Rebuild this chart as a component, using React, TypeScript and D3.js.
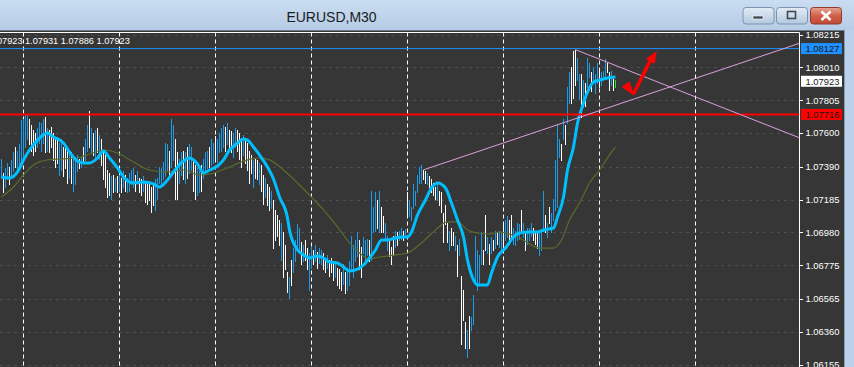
import React, { useEffect } from 'react';
import * as d3 from 'd3';

const W = 854;
const H = 367;

const chartTitle = 'EURUSD,M30';
const infoValues = ['1.07923', '1.07931', '1.07886', '1.07923'];

const priceTicks = [1.08215, 1.0801, 1.07805, 1.076, 1.0739, 1.07185, 1.0698, 1.06775, 1.06565, 1.0636, 1.06155];

const highs = [
  1.0744, 1.0735, 1.0738, 1.0741, 1.0739, 1.0743, 1.0748, 1.0751, 1.0749, 1.0753,
  1.0768, 1.0769, 1.0771, 1.0772, 1.0769, 1.0765, 1.0762, 1.076, 1.0763, 1.0767,
  1.0766, 1.0769, 1.077, 1.0763, 1.0762, 1.0764, 1.076, 1.0757, 1.0756, 1.0754,
  1.0756, 1.0751, 1.0753, 1.0749, 1.0748, 1.0748, 1.0745, 1.0743, 1.0746, 1.0744,
  1.0745, 1.0751, 1.0756, 1.0765, 1.0774, 1.0763, 1.076, 1.0762, 1.0763, 1.0759,
  1.0756, 1.0749, 1.0746, 1.0737, 1.0735, 1.0733, 1.0734, 1.0732, 1.0733, 1.0734,
  1.0732, 1.0736, 1.0734, 1.0732, 1.0735, 1.0737, 1.0738, 1.0734, 1.0736, 1.0732,
  1.0731, 1.0733, 1.0729, 1.0728, 1.0729, 1.0726, 1.0728, 1.0731, 1.0732, 1.0739,
  1.0738, 1.0742, 1.0754, 1.0753, 1.0749, 1.0769, 1.0765, 1.0756, 1.0748, 1.0744,
  1.0748, 1.0749, 1.0748, 1.0751, 1.0753, 1.0751, 1.0743, 1.074, 1.0738, 1.0736,
  1.074, 1.0744, 1.0748, 1.0749, 1.0751, 1.0756, 1.0754, 1.0758, 1.0756, 1.076,
  1.0763, 1.0765, 1.0764, 1.0766, 1.0762, 1.0761, 1.076, 1.0763, 1.0762, 1.076,
  1.0757, 1.0759, 1.0756, 1.0754, 1.0749, 1.0746, 1.0743, 1.0744, 1.0743, 1.0741,
  1.074, 1.0734, 1.0732, 1.0728, 1.0726, 1.0724, 1.0718, 1.0712, 1.0709, 1.0706,
  1.0704, 1.0698, 1.069, 1.0673, 1.067, 1.0681, 1.0688, 1.0693, 1.0703, 1.0701,
  1.0692, 1.069, 1.0693, 1.0688, 1.0685, 1.0689, 1.0687, 1.069, 1.0686, 1.0688,
  1.0687, 1.0685, 1.0682, 1.0684, 1.0681, 1.0682, 1.0678, 1.068, 1.0676, 1.0675,
  1.0673, 1.0678, 1.0673, 1.0676, 1.068, 1.0696, 1.069, 1.0693, 1.0698, 1.0693,
  1.0689, 1.0695, 1.0693, 1.0694, 1.0693, 1.0724, 1.0714, 1.0723, 1.0718, 1.0724,
  1.0714, 1.0708, 1.0704, 1.0696, 1.0693, 1.0689, 1.0696, 1.0699, 1.0698, 1.0699,
  1.0701, 1.0699, 1.07, 1.0723, 1.0718, 1.0714, 1.0728, 1.0724, 1.0734, 1.0739,
  1.074, 1.0737, 1.0736, 1.0735, 1.0733, 1.0731, 1.0729, 1.0726, 1.0728, 1.0724,
  1.0723, 1.071, 1.0715, 1.0704, 1.0699, 1.0701, 1.0698, 1.0696, 1.069, 1.0694,
  1.0671, 1.0662, 1.0642, 1.0637, 1.0646, 1.0645, 1.0659, 1.0696, 1.0687, 1.0684,
  1.0698, 1.0687, 1.0709, 1.0695, 1.0691, 1.0695, 1.0693, 1.0699, 1.0698, 1.0699,
  1.0698, 1.0703, 1.0706, 1.0708, 1.0706, 1.0709, 1.0701, 1.0699, 1.0704, 1.0703,
  1.0712, 1.0704, 1.0699, 1.0701, 1.0701, 1.0704, 1.0701, 1.0699, 1.0698, 1.0698,
  1.0699, 1.0724, 1.0709, 1.0704, 1.0714, 1.071, 1.0719, 1.0743, 1.0765, 1.0756,
  1.0753, 1.0769, 1.0765, 1.0789, 1.0798, 1.0801, 1.0811, 1.0812, 1.0807, 1.0797,
  1.0797, 1.0793, 1.0791, 1.0807, 1.0804, 1.0798, 1.0801, 1.0797, 1.0804, 1.0799,
  1.0798, 1.0799, 1.0806, 1.0804, 1.0798, 1.0799, 1.0794, 1.07931,
];

const lows = [
  1.0732, 1.0723, 1.0726, 1.0731, 1.0728, 1.0733, 1.0736, 1.0739, 1.0737, 1.074,
  1.0743, 1.0744, 1.0751, 1.0756, 1.0753, 1.0749, 1.0746, 1.0749, 1.0751, 1.0754,
  1.0749, 1.0754, 1.0748, 1.0749, 1.0748, 1.0751, 1.0743, 1.0739, 1.0741, 1.0734,
  1.0737, 1.0733, 1.0738, 1.0729, 1.0732, 1.0729, 1.0724, 1.0728, 1.0736, 1.0738,
  1.0739, 1.0741, 1.0743, 1.0749, 1.0751, 1.0748, 1.0746, 1.0743, 1.0748, 1.0744,
  1.074, 1.0731, 1.0726, 1.072, 1.0721, 1.0719, 1.0723, 1.0724, 1.0723, 1.0724,
  1.0723, 1.0726, 1.0724, 1.0723, 1.0724, 1.0728, 1.0726, 1.0724, 1.0728, 1.0723,
  1.0721, 1.0724, 1.0717, 1.0716, 1.0718, 1.0711, 1.0715, 1.0712, 1.0719, 1.0729,
  1.0728, 1.0731, 1.0733, 1.0737, 1.0734, 1.0739, 1.0743, 1.0719, 1.0719, 1.0729,
  1.0734, 1.0731, 1.0729, 1.0732, 1.0735, 1.0737, 1.0724, 1.0719, 1.0721, 1.0723,
  1.0724, 1.0732, 1.0737, 1.0738, 1.0739, 1.074, 1.0741, 1.0743, 1.0742, 1.0748,
  1.0749, 1.0751, 1.0749, 1.0753, 1.0751, 1.0748, 1.0745, 1.0751, 1.0749, 1.0744,
  1.0739, 1.0746, 1.0741, 1.0737, 1.0729, 1.0735, 1.0726, 1.0732, 1.0731, 1.0728,
  1.0724, 1.0716, 1.072, 1.0715, 1.0712, 1.0713, 1.0688, 1.0693, 1.0696, 1.069,
  1.0681, 1.067, 1.0675, 1.0661, 1.0657, 1.0665, 1.0673, 1.068, 1.0687, 1.0686,
  1.0678, 1.068, 1.0681, 1.0675, 1.0662, 1.0676, 1.0678, 1.068, 1.0676, 1.0679,
  1.0678, 1.0675, 1.0673, 1.0676, 1.0671, 1.0673, 1.0668, 1.067, 1.0665, 1.0663,
  1.0662, 1.0666, 1.066, 1.0662, 1.0665, 1.0676, 1.067, 1.068, 1.0683, 1.0675,
  1.067, 1.0685, 1.0681, 1.0684, 1.068, 1.0681, 1.0698, 1.0699, 1.0701, 1.0698,
  1.0698, 1.0698, 1.0693, 1.0687, 1.0683, 1.0678, 1.0684, 1.0689, 1.069, 1.0693,
  1.0694, 1.0693, 1.0695, 1.0708, 1.0708, 1.0706, 1.0713, 1.0715, 1.0723, 1.0729,
  1.0729, 1.0731, 1.0729, 1.0728, 1.0726, 1.0723, 1.0721, 1.0719, 1.0718, 1.0715,
  1.0711, 1.0692, 1.0703, 1.0692, 1.0687, 1.069, 1.069, 1.0687, 1.0671, 1.0684,
  1.0628, 1.0643, 1.0626, 1.062, 1.0626, 1.0637, 1.0641, 1.0666, 1.0662, 1.0665,
  1.0678, 1.0678, 1.0687, 1.0685, 1.0678, 1.0685, 1.0687, 1.0688, 1.0691, 1.0689,
  1.0686, 1.0688, 1.0693, 1.0695, 1.0691, 1.0694, 1.0691, 1.069, 1.0693, 1.0694,
  1.0698, 1.0695, 1.0687, 1.0691, 1.0693, 1.0696, 1.0693, 1.0691, 1.0688, 1.0684,
  1.0687, 1.0699, 1.0698, 1.0695, 1.0704, 1.0698, 1.0706, 1.0712, 1.0714, 1.0745,
  1.0743, 1.0756, 1.0753, 1.0766, 1.0779, 1.0779, 1.0782, 1.079, 1.0793, 1.0781,
  1.077, 1.0776, 1.0777, 1.0789, 1.0795, 1.0786, 1.0792, 1.0785, 1.0791, 1.0789,
  1.079, 1.0793, 1.0795, 1.0798, 1.0787, 1.079, 1.0787, 1.07886,
];

// u = bullish bar, d = bearish bar, g = current (unchanged) bar
const barDirections = (
  'uduuduuduu' + 'uuuudddduu' + 'uududddddu' + 'uddduduuud' + 'uduudududu' +
  'dddddududu' + 'duduuuudud' + 'duddddduuu' + 'uuuuduuddu' + 'ududuudduu' +
  'duuuduuduu' + 'uududduudd' + 'dudddduddu' + 'dduddudddd' + 'uddduduuuu' +
  'dudduududu' + 'uddudddudd' + 'duduuuuuud' + 'duuuduuudu' + 'dduudddudu' +
  'ududuuuuuu' + 'udduddddud' + 'dddduddudu' + 'ddduduuuuu' + 'uddudududu' +
  'uduudduuuu' + 'duduuudddu' + 'uududuuuuu' + 'duduuddduu' + 'duduuduuud' +
  'uuuddudg'
).split('');

// Fast moving average (read at bar indices)
const fastMaBars = [0, 4, 8, 11, 14, 18, 23, 26, 31, 34, 38, 41, 44, 48, 51, 54, 58, 61, 66, 71, 76, 79, 83, 86, 91, 94, 98, 101, 104, 108, 111, 114, 118, 121, 123, 126, 129, 133, 136, 139, 143, 144, 148, 151, 154, 158, 161, 164, 168, 171, 174, 178, 181, 184, 187, 190, 193, 197, 200, 203, 205, 208, 212, 215, 218, 222, 225, 228, 231, 233, 236, 238, 243, 245, 248, 252, 256, 259, 264, 268, 271, 276, 278, 281, 283, 286, 288, 291, 293, 296, 299, 303, 307];
const fastMaValues = [1.07326, 1.07319, 1.07357, 1.07432, 1.07494, 1.07556, 1.076, 1.07575, 1.07538, 1.07482, 1.07425, 1.07413, 1.07413, 1.07444, 1.07488, 1.07444, 1.07382, 1.07326, 1.07288, 1.07294, 1.07282, 1.07263, 1.07307, 1.07357, 1.07425, 1.07444, 1.07407, 1.0735, 1.07369, 1.07394, 1.07432, 1.07494, 1.07538, 1.07563, 1.07556, 1.07513, 1.07463, 1.07388, 1.07313, 1.07201, 1.0707, 1.06995, 1.0687, 1.06839, 1.0682, 1.06833, 1.0682, 1.06795, 1.06789, 1.06764, 1.06739, 1.06751, 1.06776, 1.0682, 1.0687, 1.06932, 1.06932, 1.06945, 1.06951, 1.06951, 1.06982, 1.07088, 1.07182, 1.07257, 1.07288, 1.07257, 1.07163, 1.07057, 1.06951, 1.06808, 1.06683, 1.06652, 1.06652, 1.06726, 1.06826, 1.06882, 1.06951, 1.06976, 1.06982, 1.06982, 1.06995, 1.07007, 1.07076, 1.07201, 1.07369, 1.07513, 1.07662, 1.07787, 1.07856, 1.07918, 1.07931, 1.07943, 1.0795];

// Slow moving average
const slowMaBars = [0, 6, 11, 16, 23, 29, 38, 44, 51, 58, 66, 74, 83, 91, 99, 104, 113, 121, 129, 134, 141, 148, 154, 161, 168, 174, 179, 184, 189, 197, 203, 210, 217, 223, 228, 233, 238, 245, 249, 259, 269, 276, 280, 284, 289, 294, 299, 304, 307];
const slowMaValues = [1.07201, 1.07263, 1.07338, 1.074, 1.07432, 1.07438, 1.07444, 1.07469, 1.07494, 1.07475, 1.07419, 1.07369, 1.07357, 1.07369, 1.07338, 1.07344, 1.07382, 1.07425, 1.07444, 1.07432, 1.07369, 1.07288, 1.07213, 1.0712, 1.07014, 1.06914, 1.06851, 1.06814, 1.06826, 1.06839, 1.06851, 1.06914, 1.06995, 1.07045, 1.07045, 1.06995, 1.06976, 1.0697, 1.06982, 1.06945, 1.06882, 1.06882, 1.06932, 1.07057, 1.07163, 1.07288, 1.07369, 1.07463, 1.07513];

const separatorBars = [11, 59, 107, 155, 203, 251, 299, 347];

const levelPrices = [1.08127, 1.07716];
const levelColors = ['#1E90FF', '#FF0000'];
const levelWidths = [1, 2];

const axisMarkPrices = [1.08127, 1.07923, 1.07716];
const axisMarkColors = ['#1E90FF', '#FFFFFF', '#FF0000'];

// trend lines: [barIndex, price] anchors, drawn as rays to the right
const trendUpAnchors: [number, number][] = [[211, 1.0737], [399, 1.0816]];
const trendDownAnchors: [number, number][] = [[287, 1.0812], [399, 1.0757]];

// red check-mark arrow, anchored in bar/price space
const arrowWedge: [number, number][] = [[310.1, 1.07889], [314, 1.07921], [316.5, 1.07831]];
const arrowShaft: [number, number][] = [[316, 1.07843], [324.5, 1.08056]];
const arrowHead: [number, number][] = [[327.6, 1.08112], [322.2, 1.08062], [326.6, 1.08032]];

const FONT = '"Liberation Sans", Arial, sans-serif';

export default function App() {
  useEffect(() => {
    document.body.style.margin = '0';
  }, []);

  const plotRight = 799.5;
  const plotTop = 32.5;

  const x = d3.scaleLinear().domain([0, 307]).range([1.5, 615.5]);
  const y = d3.scaleLinear().domain([1.06155, 1.08215]).range([364.5, 34.5]);

  const line = d3
    .line<[number, number]>()
    .x((d) => x(d[0]))
    .y((d) => y(d[1]))
    .curve(d3.curveMonotoneX);

  const fastMa = line(fastMaBars.map((b, i) => [b, fastMaValues[i]] as [number, number]));
  const slowMa = line(slowMaBars.map((b, i) => [b, slowMaValues[i]] as [number, number]));

  const ray = (a: [number, number][]) => {
    const [p0, p1] = a;
    const x0 = x(p0[0]);
    const y0 = y(p0[1]);
    const x1 = x(p1[0]);
    const y1 = y(p1[1]);
    const slope = (y1 - y0) / (x1 - x0);
    const xe = plotRight + 20;
    return { x0, y0, x1: xe, y1: y0 + slope * (xe - x0) };
  };
  const tUp = ray(trendUpAnchors);
  const tDown = ray(trendDownAnchors);

  const pts = (a: [number, number][]) => a.map((p) => `${x(p[0])},${y(p[1])}`).join(' ');

  const barColor = (d: string) => (d === 'u' ? '#1c9ce8' : d === 'g' ? '#00FF00' : '#FFFFFF');

  return (
    <svg
      width={W}
      height={H}
      viewBox={`0 0 ${W} ${H}`}
      style={{ position: 'absolute', left: 0, top: 0, display: 'block' }}
    >
      <defs>
        <linearGradient id="titleGrad" x1="0" y1="0" x2="0" y2="1">
          <stop offset="0" stopColor="#c9dcf0" />
          <stop offset="1" stopColor="#b6cce6" />
        </linearGradient>
        <linearGradient id="btnGrad" x1="0" y1="0" x2="0" y2="1">
          <stop offset="0" stopColor="#e3ecf6" />
          <stop offset="0.5" stopColor="#cbdaeb" />
          <stop offset="1" stopColor="#b4c8df" />
        </linearGradient>
        <linearGradient id="closeGrad" x1="0" y1="0" x2="0" y2="1">
          <stop offset="0" stopColor="#e8a595" />
          <stop offset="0.5" stopColor="#d0604a" />
          <stop offset="1" stopColor="#c04a36" />
        </linearGradient>
        <clipPath id="plotClip">
          <rect x={0} y={plotTop} width={plotRight} height={H - plotTop} />
        </clipPath>
      </defs>

      {/* window frame */}
      <rect x={0} y={0} width={W} height={H} fill="#b9d1ea" />
      <rect x={0} y={0} width={W} height={30} fill="url(#titleGrad)" />
      <text x={331.5} y={22} textAnchor="middle" fontFamily={FONT} fontSize={14} fill="#1b1b1b">
        {chartTitle}
      </text>
      {/* window buttons */}
      <g>
        <rect x={743} y={7.5} width={31} height={16.5} rx={3} fill="url(#btnGrad)" stroke="#7c93b1" />
        <rect x={753} y={16} width={10} height={3} fill="#404850" stroke="#ffffff" strokeWidth={0.6} />
        <rect x={776.5} y={7.5} width={31} height={16.5} rx={3} fill="url(#btnGrad)" stroke="#7c93b1" />
        <rect x={787.5} y={11.5} width={8} height={7} fill="none" stroke="#404850" strokeWidth={1.6} />
        <rect x={810.5} y={7.5} width={31} height={16.5} rx={3} fill="url(#closeGrad)" stroke="#8e3b2e" />
        <path d="M821.5,11.5 L830.5,20 M830.5,11.5 L821.5,20" stroke="#ffffff" strokeWidth={2.6} />
      </g>

      {/* chart area */}
      <rect x={0} y={30} width={844} height={H - 30} fill="#363636" />
      <line x1={0} x2={844} y1={30.5} y2={30.5} stroke="#6b7c8e" />

      <g clipPath="url(#plotClip)">
        {/* horizontal grid */}
        {priceTicks.map((p) => (
          <line
            key={p}
            x1={0}
            x2={plotRight}
            y1={Math.round(y(p)) + 0.5}
            y2={Math.round(y(p)) + 0.5}
            stroke="#4a4d52"
            strokeDasharray="3,4"
          />
        ))}
        {/* period separators */}
        {separatorBars.map((b) => (
          <line
            key={b}
            x1={x(b)}
            x2={x(b)}
            y1={plotTop}
            y2={H}
            stroke="#ffffff"
            strokeDasharray="4,3"
          />
        ))}

        {/* bars */}
        {highs.map((h, i) => (
          <line
            key={i}
            x1={x(i)}
            x2={x(i)}
            y1={Math.round(y(h))}
            y2={Math.round(y(lows[i])) + 1}
            stroke={barColor(barDirections[i])}
            strokeWidth={1}
            shapeRendering="crispEdges"
          />
        ))}

        {/* moving averages */}
        <path d={slowMa || ''} fill="none" stroke="#5b6b2c" strokeWidth={1.2} />
        <path d={fastMa || ''} fill="none" stroke="#00BFFF" strokeWidth={3} />

        {/* horizontal levels */}
        {levelPrices.map((p, i) => (
          <line
            key={p}
            x1={0}
            x2={plotRight}
            y1={y(p)}
            y2={y(p)}
            stroke={levelColors[i]}
            strokeWidth={levelWidths[i]}
          />
        ))}

        {/* trend lines */}
        <line x1={tUp.x0} y1={tUp.y0} x2={tUp.x1} y2={tUp.y1} stroke="#DDA0DD" strokeWidth={1} />
        <line x1={tDown.x0} y1={tDown.y0} x2={tDown.x1} y2={tDown.y1} stroke="#DDA0DD" strokeWidth={1} />

        {/* red arrow */}
        <polygon points={pts(arrowWedge)} fill="#FF0000" />
        <line
          x1={x(arrowShaft[0][0])}
          y1={y(arrowShaft[0][1])}
          x2={x(arrowShaft[1][0])}
          y2={y(arrowShaft[1][1])}
          stroke="#FF0000"
          strokeWidth={3.5}
        />
        <polygon points={pts(arrowHead)} fill="#FF0000" />
      </g>

      {/* OHLC info */}
      <text x={22.5} y={44} textAnchor="end" fontFamily={FONT} fontSize={9.2} fill="#ffffff">
        {infoValues[0]}
      </text>
      <text x={25} y={44} fontFamily={FONT} fontSize={9.2} fill="#ffffff">
        {infoValues.slice(1).join(' ')}
      </text>

      {/* frame */}
      <line x1={0} x2={plotRight} y1={plotTop} y2={plotTop} stroke="#ffffff" />
      <line x1={plotRight} x2={plotRight} y1={plotTop} y2={H} stroke="#ffffff" />

      {/* price axis */}
      {priceTicks.map((p) => (
        <g key={p}>
          <line x1={plotRight} x2={803} y1={Math.round(y(p)) + 0.5} y2={Math.round(y(p)) + 0.5} stroke="#ffffff" />
          <text x={805.5} y={y(p) + 3.4} fontFamily={FONT} fontSize={9.4} fill="#ffffff">
            {p.toFixed(5)}
          </text>
        </g>
      ))}
      {axisMarkPrices.map((p, i) => (
        <g key={p}>
          <rect x={801} y={y(p) - 5.5} width={41} height={11} fill={axisMarkColors[i]} />
          <text x={805.5} y={y(p) + 3.4} fontFamily={FONT} fontSize={9.4} fill="#1a1a1a">
            {p.toFixed(5)}
          </text>
        </g>
      ))}

      {/* right window border */}
      <line x1={844.5} x2={844.5} y1={30} y2={H} stroke="#8a9bb0" />
    </svg>
  );
}
